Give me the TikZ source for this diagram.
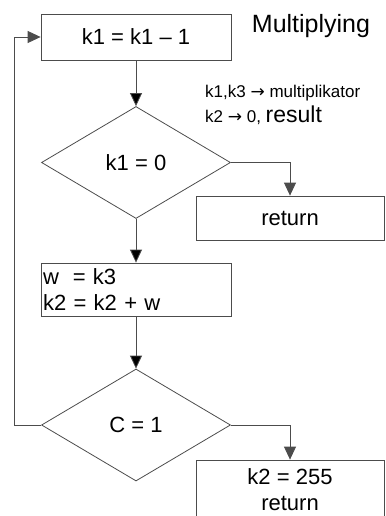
\documentclass[tikz,border=0pt]{standalone}
\usepackage{fontspec}
\setmainfont{Liberation Sans}
\newfontfamily\arrowfont{DejaVu Sans}
\usetikzlibrary{arrows.meta,positioning,shapes.geometric}

\begin{document}
\begin{tikzpicture}[x=1pt,y=-1pt,on grid,
   >={Triangle[length=13pt,width=12pt]},
   line/.style={draw=black!70,line width=0.8pt},
   block/.style={line,rectangle,minimum width=190pt,minimum height=46pt,inner sep=0pt,font=\fontsize{22}{26}\selectfont},
   decision/.style={line,diamond,minimum width=189pt,minimum height=112pt,inner sep=0pt,font=\fontsize{22}{26}\selectfont}]
   \useasboundingbox (0,0) rectangle (385,516);
   \node[block] (dec) at (136,37) {k1 = k1 -- 1};
   \node[decision] (zero) [below=125.5pt of dec] {k1 = 0};
   \node[block,minimum width=188pt,minimum height=44pt] (ret) [below right=55.5pt and 154pt of zero] {return};
   \node[block,minimum height=53pt,text width=186pt,align=left,inner xsep=2pt] (add) [below=127pt of zero] {w\hspace{0.3em} = k3\\k2 = k2 + w};
   \node[decision] (carry) [below=135.5pt of add] {C = 1};
   \node[block,minimum width=188pt,minimum height=60pt,align=center] (fin) [below right=65pt and 154pt of carry] {k2 = 255\\return};
   \coordinate (back) at (14,425);

   % labels
   \node[font=\fontsize{25}{28}\selectfont] (title) at (311,26) {Multiplying};
   \node[anchor=base west,inner sep=0pt,font=\fontsize{17}{19}\selectfont] (args) at (205,98) {k1,k3 {\arrowfont →} multiplikator};
   \node[anchor=base west,inner sep=0pt,font=\fontsize{17}{19}\selectfont] (res) at (205,122) {k2 {\arrowfont →} 0, {\fontsize{23}{25}\selectfont result}};

   \path[line,->]
   (dec) edge (zero)
   (zero) edge (add)
   (add) edge (carry);
   \draw[line,->] (zero.east) -| (ret);
   \draw[line,->] (carry.east) -| (fin);
   \draw[line,->] (carry.west) -- (back) |- (dec.west);
\end{tikzpicture}
\end{document}
